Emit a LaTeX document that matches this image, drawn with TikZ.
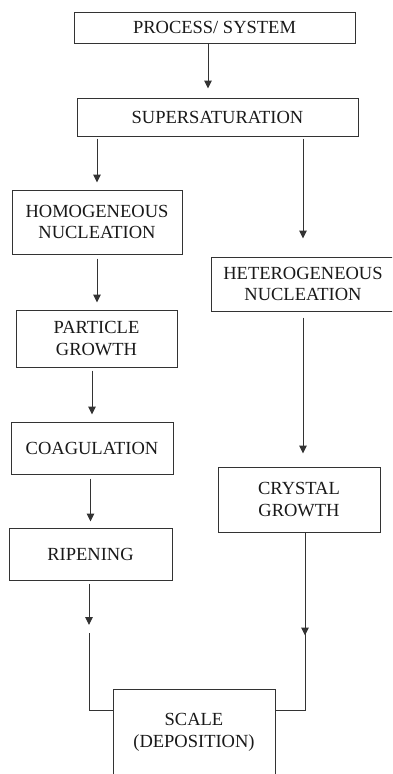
\documentclass[tikz,border=0pt]{standalone}
\usepackage{fontspec}
\setmainfont{Liberation Serif}
\usepackage{tikz}
\usetikzlibrary{arrows.meta}
\usetikzlibrary{decorations.markings}

\begin{document}
\begin{tikzpicture}[x=1pt,y=-1pt,
    box/.style={draw=black!80, line width=1pt, inner sep=0pt, align=center,
        text=black!90, font=\fontsize{18.5}{21.7}\selectfont},
    link/.style={draw=black!80, line width=1pt},
    arr/.style={link, -{Triangle[length=8pt,width=7.5pt]}}]
\useasboundingbox (0,0) rectangle (392,774);
\clip (0,0) rectangle (392,774);

% boxes
\node[box, minimum width=281pt, minimum height=31pt] (proc) at (214.5,27.5) {PROCESS/ SYSTEM};
\node[box, minimum width=281pt, minimum height=38pt] (super) at (217.5,117) {SUPERSATURATION};
\node[box, minimum width=170pt, minimum height=64pt] (homo) at (97,222) {HOMOGENEOUS\\NUCLEATION};
\node[box, minimum width=161pt, minimum height=57pt] (part) at (96.5,338.5) {PARTICLE\\GROWTH};
\node[box, minimum width=162pt, minimum height=52pt] (coag) at (92,448) {COAGULATION};
\node[box, minimum width=163pt, minimum height=52pt] (ripen) at (90.5,554) {RIPENING};
\node[box, minimum width=184pt, minimum height=54pt] (hetero) at (303,284) {HETEROGENEOUS\\NUCLEATION};
\node[box, minimum width=162pt, minimum height=65pt] (cryst) at (299,499.5) {CRYSTAL\\GROWTH};
\node[box, minimum width=162pt, minimum height=86pt] (scale) at (194,732) {SCALE\\(DEPOSITION)};

% left column
\draw[arr, shorten >=9pt] ([xshift=-6.5pt]proc.south) -- ([xshift=-6.5pt]proc.south |- super.north);
\draw[arr, shorten <=2pt, shorten >=7pt] (homo.north |- super.south) -- (homo.north);
\draw[arr, shorten <=4pt, shorten >=7pt] (homo.south) -- (homo.south |- part.north);
\draw[arr, shorten <=3pt, shorten >=7pt] (coag.north |- part.south) -- (coag.north);
\draw[arr, shorten <=4pt, shorten >=6pt] (ripen.north |- coag.south) -- (ripen.north);
\coordinate (ljoin) at (89,633);
\draw[arr, shorten <=3pt, shorten >=8pt] (ripen.south -| ljoin) -- (ljoin);
\draw[link] (ljoin) |- ([yshift=-22pt]scale.north west);

% right column
\draw[arr, shorten <=2pt, shorten >=18pt] (hetero.north |- super.south) -- (hetero.north);
\draw[arr, shorten <=6pt, shorten >=13pt] (hetero.south) -- (hetero.south |- cryst.north);
\begin{scope}[decoration={markings,
    mark=at position 103pt with {\arrow{Triangle[length=8pt,width=7.5pt]}}}]
\draw[link, postaction={decorate}] ([xshift=6pt]cryst.south) |- ([yshift=-22pt]scale.north east);
\end{scope}
\end{tikzpicture}
\end{document}
